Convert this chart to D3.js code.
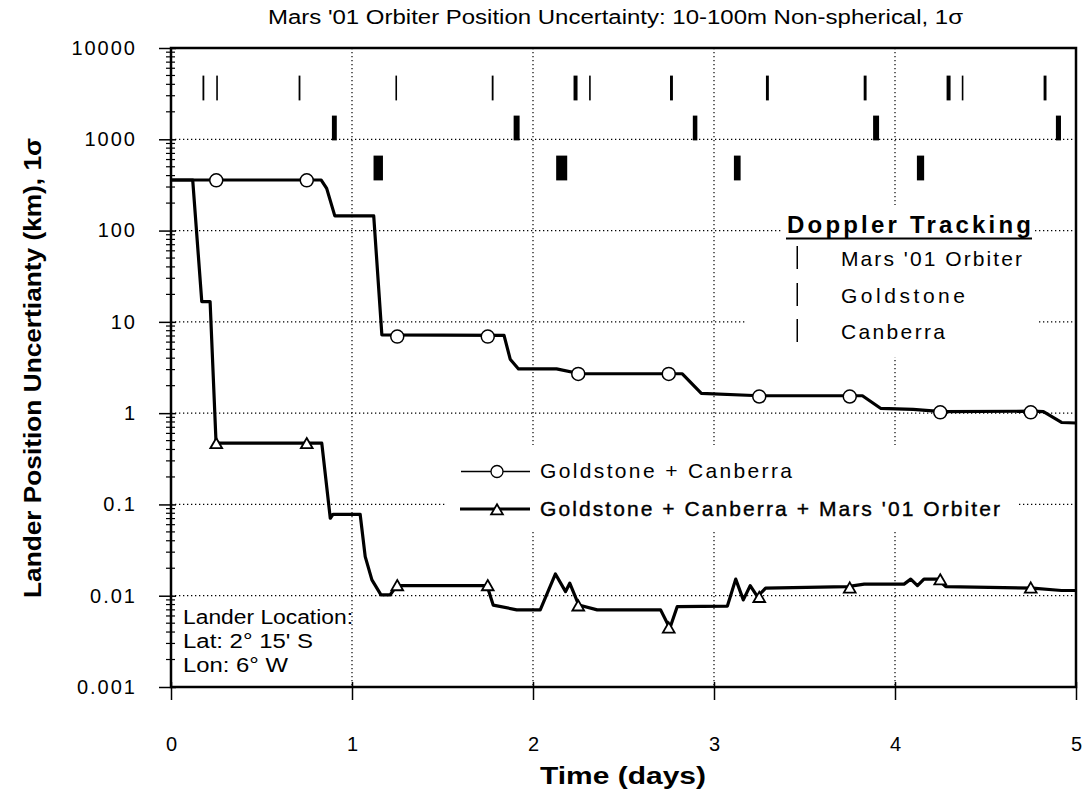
<!DOCTYPE html>
<html>
<head>
<meta charset="utf-8">
<script src="https://cdn.jsdelivr.net/npm/d3@7"></script>
<style>
  body { margin: 0; background: #fff; }
  text { font-family: "Liberation Sans", Arial, Helvetica, sans-serif; fill: #000; }
</style>
</head>
<body>
<svg width="1082" height="793"></svg>
<script>
// Goldstone + Canberra (circles)
var gcDays   = [0, 0.83, 0.86, 0.905, 1.12, 1.165, 1.84, 1.874, 1.92, 2.13, 2.26, 2.825, 2.93, 3.25, 3.82, 3.92, 4.1, 4.26, 4.76, 4.82, 4.92, 5];
var gcValues = [358, 358, 290, 145, 145, 7.2, 7.1, 3.9, 3.05, 3.05, 2.7, 2.7, 1.65, 1.55, 1.55, 1.13, 1.1, 1.04, 1.05, 1.04, 0.79, 0.78];
var gcMarkDays   = [0.25, 0.75, 1.25, 1.75, 2.25, 2.75, 3.25, 3.75, 4.25, 4.75];
var gcMarkValues = [355, 355, 6.9, 6.9, 2.69, 2.69, 1.52, 1.52, 1.02, 1.02];

// Goldstone + Canberra + Mars '01 Orbiter (triangles)
var gcmDays   = [0, 0.12, 0.17, 0.216, 0.249, 0.833, 0.88, 0.895, 1.045, 1.073, 1.11, 1.16, 1.21, 1.248, 1.746, 1.78, 1.91, 2.04, 2.124, 2.18, 2.203, 2.253, 2.355, 2.705, 2.756, 2.797, 3.074, 3.12, 3.162, 3.2, 3.24, 3.285, 3.737, 3.83, 4.05, 4.087, 4.124, 4.16, 4.235, 4.28, 4.76, 4.92, 5];
var gcmValues = [358, 358, 16.7, 16.7, 0.47, 0.47, 0.0706, 0.078, 0.078, 0.0268, 0.0149, 0.0102, 0.0102, 0.0129, 0.0129, 0.0079, 0.0070, 0.0070, 0.0173, 0.0111, 0.0137, 0.0079, 0.0070, 0.0070, 0.0044, 0.0076, 0.0077, 0.0152, 0.0090, 0.0129, 0.0098, 0.0121, 0.0126, 0.0134, 0.0134, 0.0152, 0.0129, 0.0152, 0.0152, 0.0126, 0.0121, 0.0114, 0.0114];
var gcmMarkDays   = [0.25, 0.75, 1.25, 1.75, 2.25, 2.75, 3.25, 3.75, 4.25, 4.75];
var gcmMarkValues = [0.45, 0.45, 0.0125, 0.0125, 0.0075, 0.0043, 0.0093, 0.0118, 0.0145, 0.0118];

// Doppler tracking passes, [start, end] in days
var trackRows = ["Mars '01 Orbiter", "Goldstone", "Canberra"];
var orbiterPasses = [[0.174, 0.184], [0.250, 0.256], [0.705, 0.715], [1.240, 1.248], [1.772, 1.782], [2.224, 2.246], [2.310, 2.318], [2.757, 2.773], [3.287, 3.303], [3.827, 3.843], [4.285, 4.307], [4.369, 4.377], [4.821, 4.837]];
var goldstonePasses = [[0.889, 0.916], [1.893, 1.926], [2.883, 2.908], [3.879, 3.912], [4.889, 4.917]];
var canberraPasses = [[1.119, 1.171], [2.128, 2.189], [3.110, 3.147], [4.121, 4.161]];

var xTicks = [0, 1, 2, 3, 4, 5];
var yTicks = [0.001, 0.01, 0.1, 1, 10, 100, 1000, 10000];
var yTickLabels = ["0.001", "0.01", "0.1", "1", "10", "100", "1000", "10000"];

var svg = d3.select("svg"),
    margin = {top: 48, right: 6, bottom: 106, left: 171},
    width = +svg.attr("width") - margin.left - margin.right,
    height = +svg.attr("height") - margin.top - margin.bottom;

var xScale = d3.scaleLinear().domain([0, 5]).range([0, width]);
var yScale = d3.scaleLog().domain([0.001, 10000]).range([height, 0]);
var rowScale = d3.scaleBand().domain(trackRows).range([20, 140]).paddingInner(0.38).paddingOuter(0.19);

svg.append("text")
  .attr("x", 268).attr("y", 24)
  .attr("textLength", 695).attr("lengthAdjust", "spacingAndGlyphs")
  .style("font-size", "20px")
  .text("Mars '01 Orbiter Position Uncertainty: 10-100m Non-spherical, 1\u03c3");

var g = svg.append("g")
  .attr("transform", "translate(" + margin.left + "," + margin.top + ")");

// dotted grid
g.append("g").selectAll("line")
  .data(yTicks.slice(1, -1))
  .enter().append("line")
    .attr("x1", 0).attr("x2", width)
    .attr("y1", function(d) { return yScale(d); })
    .attr("y2", function(d) { return yScale(d); })
    .attr("stroke", "#000").attr("stroke-width", 1.2)
    .attr("stroke-dasharray", "1.3,2.7");

g.append("g").selectAll("line")
  .data(xTicks.slice(1, -1))
  .enter().append("line")
    .attr("y1", 0).attr("y2", height)
    .attr("x1", function(d) { return xScale(d); })
    .attr("x2", function(d) { return xScale(d); })
    .attr("stroke", "#000").attr("stroke-width", 1.2)
    .attr("stroke-dasharray", "1.3,2.7");

// white boxes behind the legends
g.append("rect").attr("x", 612).attr("y", 157).attr("width", 250).attr("height", 35).attr("fill", "#fff");
g.append("rect").attr("x", 574).attr("y", 190).attr("width", 293).attr("height", 119).attr("fill", "#fff");
g.append("rect").attr("x", 274).attr("y", 397).attr("width", 572).attr("height", 87).attr("fill", "#fff");

// tracking passes
var passSets = [orbiterPasses, goldstonePasses, canberraPasses];
passSets.forEach(function(passes, i) {
  g.append("g").selectAll("rect")
    .data(passes)
    .enter().append("rect")
      .attr("x", function(d) { return xScale(d[0]); })
      .attr("width", function(d) { return Math.max(1.6, xScale(d[1]) - xScale(d[0])); })
      .attr("y", rowScale(trackRows[i]))
      .attr("height", rowScale.bandwidth())
      .attr("fill", "#000");
});

// curves
var line = d3.line()
  .x(function(d) { return xScale(d[0]); })
  .y(function(d) { return yScale(d[1]); });

var gcData = gcDays.map(function(d, i) { return [d, gcValues[i]]; });
var gcmData = gcmDays.map(function(d, i) { return [d, gcmValues[i]]; });

g.append("path").datum(gcData)
  .attr("d", line).attr("fill", "none")
  .attr("stroke", "#000").attr("stroke-width", 3.2).attr("stroke-linejoin", "round");

g.append("path").datum(gcmData)
  .attr("d", line).attr("fill", "none")
  .attr("stroke", "#000").attr("stroke-width", 3.2).attr("stroke-linejoin", "round");

g.append("g").selectAll("circle")
  .data(gcMarkDays)
  .enter().append("circle")
    .attr("cx", function(d) { return xScale(d); })
    .attr("cy", function(d, i) { return yScale(gcMarkValues[i]); })
    .attr("r", 6.5)
    .attr("fill", "#fff").attr("stroke", "#000").attr("stroke-width", 1.5);

var tri = d3.symbol().type(d3.symbolTriangle).size(60);
g.append("g").selectAll("path")
  .data(gcmMarkDays)
  .enter().append("path")
    .attr("d", tri)
    .attr("transform", function(d, i) { return "translate(" + xScale(d) + "," + yScale(gcmMarkValues[i]) + ")"; })
    .attr("fill", "#fff").attr("stroke", "#000").attr("stroke-width", 1.8);

// axes
var yAxis = d3.axisLeft(yScale).tickValues(yTicks).tickSize(12).tickPadding(22)
  .tickFormat(function(d, i) { return yTickLabels[i]; });
var gy = g.append("g").call(yAxis);
gy.select(".domain").remove();
gy.selectAll(".tick line").attr("x2", -12).attr("x1", 5).attr("stroke-width", 1.5);
gy.selectAll(".tick text").style("font-size", "20px").style("letter-spacing", "2px").attr("font-family", null);

var minor = yScale.ticks().filter(function(d) { return yTicks.indexOf(d) < 0; });
g.append("g").selectAll("line")
  .data(minor)
  .enter().append("line")
    .attr("x1", -5).attr("x2", 4)
    .attr("y1", function(d) { return yScale(d); })
    .attr("y2", function(d) { return yScale(d); })
    .attr("stroke", "#000").attr("stroke-width", 1.2);

var xAxis = d3.axisBottom(xScale).tickValues(xTicks).tickSize(13).tickPadding(37).tickFormat(d3.format("d"));
var gx = g.append("g").attr("transform", "translate(0," + height + ")").call(xAxis);
gx.select(".domain").remove();
gx.selectAll(".tick line").attr("y1", -5).attr("stroke-width", 1.5);
gx.selectAll(".tick text").style("font-size", "20px").attr("font-family", null);

g.append("rect")
  .attr("width", width).attr("height", height)
  .attr("fill", "none").attr("stroke", "#000").attr("stroke-width", 2.5);

// axis titles
svg.append("text")
  .attr("x", 540).attr("y", 784)
  .attr("textLength", 166).attr("lengthAdjust", "spacingAndGlyphs")
  .style("font-size", "23px").style("font-weight", "bold")
  .text("Time  (days)");

svg.append("text")
  .attr("transform", "translate(41,598) rotate(-90)")
  .attr("textLength", 460).attr("lengthAdjust", "spacingAndGlyphs")
  .style("font-size", "23px").style("font-weight", "bold")
  .text("Lander Position Uncertianty (km),  1\u03c3");

// Doppler tracking legend
var lg = svg.append("g");
lg.append("text")
  .attr("x", 787).attr("y", 233)
  .attr("textLength", 244).attr("lengthAdjust", "spacing")
  .style("font-size", "24px").style("font-weight", "bold")
  .text("Doppler  Tracking");
lg.append("line")
  .attr("x1", 786).attr("x2", 1032).attr("y1", 238.5).attr("y2", 238.5)
  .attr("stroke", "#000").attr("stroke-width", 2);
var legRowY = [258, 295, 331];
var legRowW = [181, 124, 104];
trackRows.forEach(function(name, i) {
  lg.append("rect")
    .attr("x", 796.5).attr("y", legRowY[i] - 12)
    .attr("width", 1.5).attr("height", 23).attr("fill", "#000");
  lg.append("text")
    .attr("x", 841).attr("y", legRowY[i] + 7.5)
    .attr("textLength", legRowW[i]).attr("lengthAdjust", "spacing")
    .style("font-size", "21px")
    .text(name);
});

// series legend
var sl = svg.append("g");
sl.append("line").attr("x1", 461).attr("x2", 530).attr("y1", 471.5).attr("y2", 471.5)
  .attr("stroke", "#000").attr("stroke-width", 1.6);
sl.append("circle").attr("cx", 497).attr("cy", 471.5).attr("r", 6)
  .attr("fill", "#fff").attr("stroke", "#000").attr("stroke-width", 1.3);
sl.append("text").attr("x", 540).attr("y", 478)
  .attr("textLength", 252).attr("lengthAdjust", "spacing")
  .style("font-size", "21px")
  .text("Goldstone + Canberra");
sl.append("line").attr("x1", 460).attr("x2", 530).attr("y1", 509).attr("y2", 509)
  .attr("stroke", "#000").attr("stroke-width", 3.2);
sl.append("path").attr("d", tri)
  .attr("transform", "translate(497,511)")
  .attr("fill", "#fff").attr("stroke", "#000").attr("stroke-width", 1.8);
sl.append("text").attr("x", 540).attr("y", 516)
  .attr("textLength", 460).attr("lengthAdjust", "spacing")
  .style("font-size", "21px").style("stroke", "#000").style("stroke-width", "0.4px")
  .text("Goldstone + Canberra + Mars '01 Orbiter");

// lander location note
var notes = ["Lander Location:", "Lat: 2\u00b0 15' S", "Lon: 6\u00b0 W"];
var noteW = [170, 130, 105];
svg.append("g").selectAll("text")
  .data(notes)
  .enter().append("text")
    .attr("x", 183)
    .attr("y", function(d, i) { return 624 + i * 24; })
    .attr("textLength", function(d, i) { return noteW[i]; })
    .attr("lengthAdjust", "spacingAndGlyphs")
    .style("font-size", "20px")
    .text(function(d) { return d; });
</script>
</body>
</html>
